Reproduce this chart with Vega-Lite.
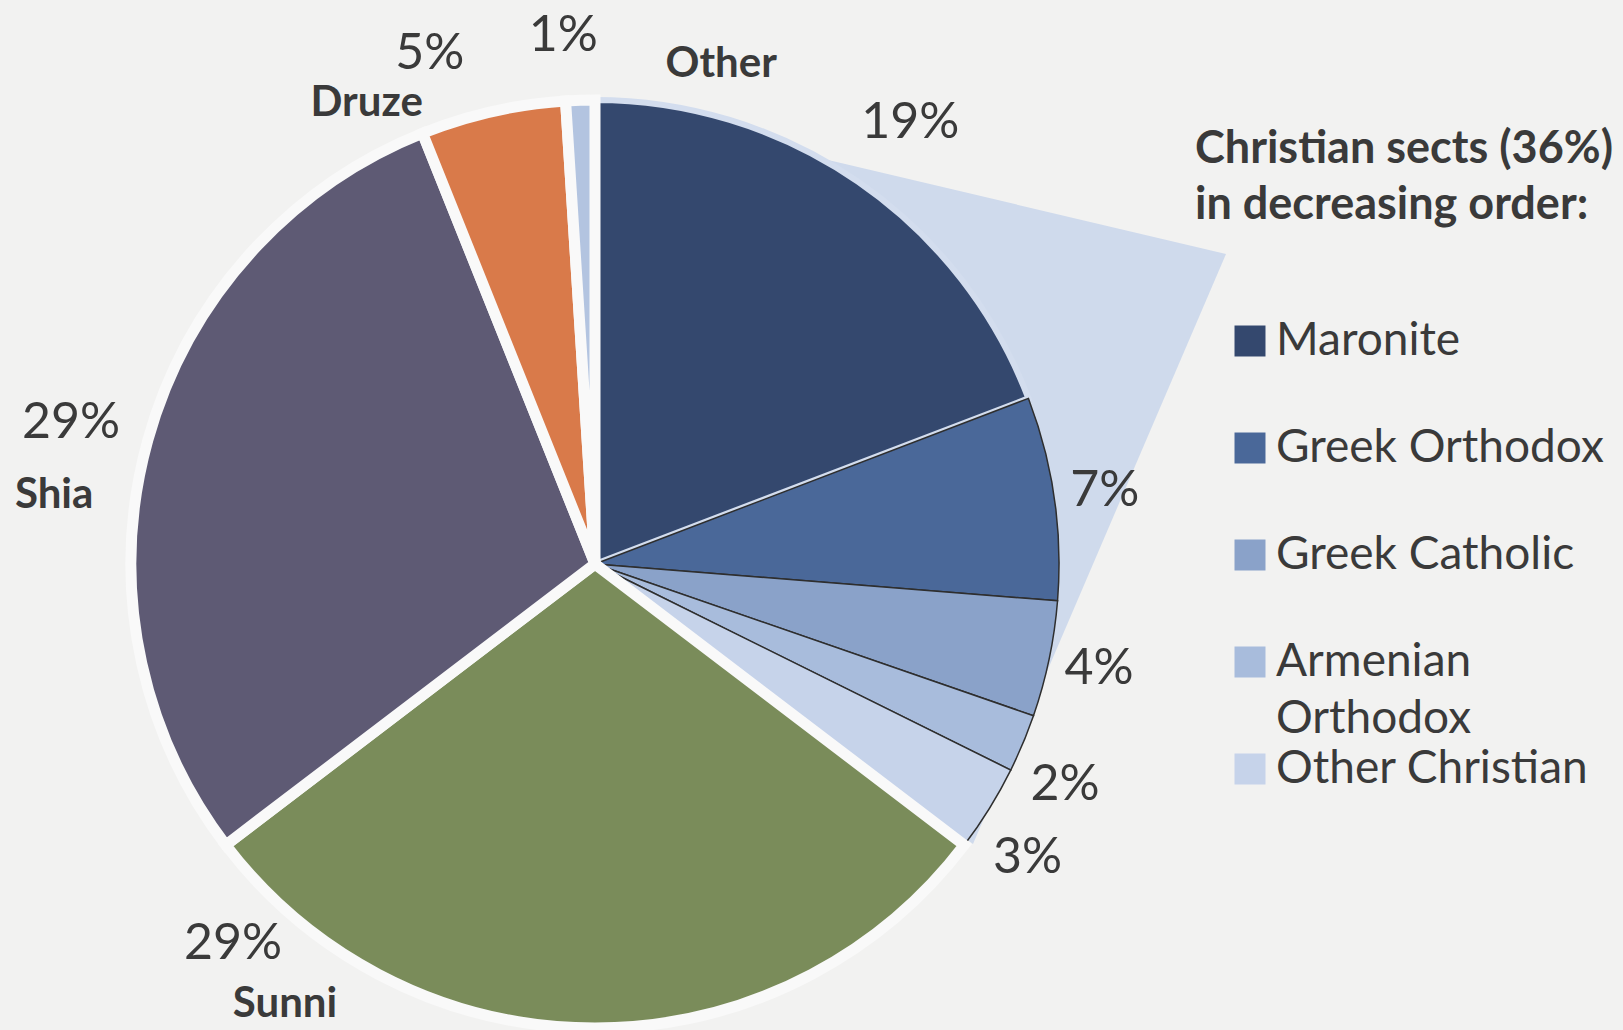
{
  "$schema": "https://vega.github.io/schema/vega-lite/v6.json",
  "width": 1190,
  "height": 932,
  "autosize": {"type": "none"},
  "padding": {"left": 0, "top": 98, "right": 433, "bottom": 0},
  "background": "#f2f2f1",
  "config": {
    "view": {"stroke": null},
    "font": "Lato",
    "style": {"guide-label": {"lineHeight": 57}}
  },
  "data": {
    "values": [
      {"sect": "Maronite", "group": "Christian", "value": 19, "label": "19%", "rank": 1},
      {"sect": "Greek Orthodox", "group": "Christian", "value": 7, "label": "7%", "rank": 2},
      {"sect": "Greek Catholic", "group": "Christian", "value": 4, "label": "4%", "rank": 3},
      {"sect": "Armenian Orthodox", "group": "Christian", "value": 2, "label": "2%", "rank": 4},
      {"sect": "Other Christian", "group": "Christian", "value": 3, "label": "3%", "rank": 5},
      {"sect": "Sunni", "group": "Sunni", "value": 29, "label": "29%", "rank": 6},
      {"sect": "Shia", "group": "Shia", "value": 29, "label": "29%", "rank": 7},
      {"sect": "Druze", "group": "Druze", "value": 5, "label": "5%", "rank": 8},
      {"sect": "Other", "group": "Other", "value": 1, "label": "1%", "rank": 9}
    ]
  },
  "layer": [
    {
      "data": {"values": [{"part": "callout"}]},
      "mark": {
        "type": "point",
        "shape": "M 0 0 L 2.12 -4.09 L 6.31 -3.10 L 3.78 2.80 Z",
        "size": 40000,
        "filled": true,
        "color": "#cfdaec",
        "opacity": 1,
        "strokeWidth": 0
      },
      "encoding": {}
    },
    {
      "mark": {"type": "arc", "outerRadius": 464},
      "encoding": {
        "theta": {"field": "value", "type": "quantitative", "stack": true},
        "order": {"field": "rank", "type": "quantitative"},
        "color": {
          "field": "sect",
          "type": "nominal",
          "scale": {
            "domain": ["Maronite", "Greek Orthodox", "Greek Catholic", "Armenian Orthodox", "Other Christian", "Sunni", "Shia", "Druze", "Other"],
            "range": ["#34486e", "#4a6899", "#8aa2c9", "#a8bcdc", "#c6d3ea", "#7a8c5a", "#5e5a74", "#d97a4a", "#b3c4e0"]
          },
          "legend": {
            "title": ["Christian sects (36%)", "in decreasing order:"],
            "values": ["Maronite", "Greek Orthodox", "Greek Catholic", "Armenian Orthodox", "Other Christian"],
            "orient": "none",
            "legendX": 1195,
            "legendY": 29,
            "padding": 0,
            "symbolType": "square",
            "symbolSize": 960,
            "symbolOffset": 32,
            "symbolStrokeWidth": 0,
            "symbolOpacity": 1,
            "labelFont": "Lato",
            "labelFontSize": 46,
            "labelColor": "#3a3a3a",
            "labelLimit": 600,
            "labelOffset": 3,
            "labelExpr": "datum.label == 'Armenian Orthodox' ? ['Armenian', 'Orthodox'] : [datum.label, ' ']",
            "rowPadding": 4,
            "titleFont": "Lato",
            "titleFontSize": 45,
            "titleFontWeight": "bold",
            "titleColor": "#3a3a3a",
            "titleLimit": 700,
            "titleLineHeight": 56,
            "titlePadding": 90
          }
        },
        "stroke": {
          "condition": [
            {"test": "datum.sect == 'Maronite'", "value": "#d3ddee"},
            {"test": "datum.group != 'Christian'", "value": "#f9f9f9"}
          ],
          "value": "#2e2e2e"
        },
        "strokeWidth": {
          "condition": [
            {"test": "datum.sect == 'Maronite'", "value": 6},
            {"test": "datum.group != 'Christian'", "value": 11}
          ],
          "value": 1.5
        }
      }
    },
    {
      "mark": {"type": "text", "radius": 535, "fontSize": 50, "color": "#3a3a3a", "font": "Lato", "dx": 12},
      "encoding": {
        "theta": {"field": "value", "type": "quantitative", "stack": true},
        "order": {"field": "rank", "type": "quantitative"},
        "detail": {"field": "sect"},
        "text": {"condition": {"test": "datum.sect == 'Maronite'", "field": "label"}, "value": ""}
      }
    },
    {
      "mark": {"type": "text", "radius": 515, "fontSize": 50, "color": "#3a3a3a", "font": "Lato"},
      "encoding": {
        "theta": {"field": "value", "type": "quantitative", "stack": true},
        "order": {"field": "rank", "type": "quantitative"},
        "detail": {"field": "sect"},
        "text": {"condition": {"test": "datum.sect == 'Greek Orthodox' || datum.sect == 'Greek Catholic'", "field": "label"}, "value": ""}
      }
    },
    {
      "mark": {"type": "text", "radius": 515, "fontSize": 50, "color": "#3a3a3a", "font": "Lato", "dx": -5, "dy": 22},
      "encoding": {
        "theta": {"field": "value", "type": "quantitative", "stack": true},
        "order": {"field": "rank", "type": "quantitative"},
        "detail": {"field": "sect"},
        "text": {"condition": {"test": "datum.sect == 'Armenian Orthodox' || datum.sect == 'Other Christian'", "field": "label"}, "value": ""}
      }
    },
    {
      "mark": {"type": "text", "radius": 528, "fontSize": 50, "color": "#3a3a3a", "font": "Lato", "dx": -15},
      "encoding": {
        "theta": {"field": "value", "type": "quantitative", "stack": true},
        "order": {"field": "rank", "type": "quantitative"},
        "detail": {"field": "sect"},
        "text": {"condition": {"test": "datum.sect == 'Shia' || datum.sect == 'Other'", "field": "label"}, "value": ""}
      }
    },
    {
      "mark": {"type": "text", "radius": 528, "fontSize": 50, "color": "#3a3a3a", "font": "Lato", "dx": -49, "dy": 5},
      "encoding": {
        "theta": {"field": "value", "type": "quantitative", "stack": true},
        "order": {"field": "rank", "type": "quantitative"},
        "detail": {"field": "sect"},
        "text": {"condition": {"test": "datum.sect == 'Druze'", "field": "label"}, "value": ""}
      }
    },
    {
      "mark": {"type": "text", "radius": 528, "fontSize": 50, "color": "#3a3a3a", "font": "Lato", "dx": -362, "dy": -148},
      "encoding": {
        "theta": {"field": "value", "type": "quantitative", "stack": true},
        "order": {"field": "rank", "type": "quantitative"},
        "detail": {"field": "sect"},
        "text": {"condition": {"test": "datum.sect == 'Sunni'", "field": "label"}, "value": ""}
      }
    },
    {
      "mark": {"type": "text", "radius": 528, "fontSize": 42, "fontWeight": "bold", "color": "#3a3a3a", "font": "Lato", "dx": -32, "dy": 72},
      "encoding": {
        "theta": {"field": "value", "type": "quantitative", "stack": true},
        "order": {"field": "rank", "type": "quantitative"},
        "detail": {"field": "sect"},
        "text": {"condition": {"test": "datum.sect == 'Shia'", "field": "sect"}, "value": ""}
      }
    },
    {
      "mark": {"type": "text", "radius": 528, "fontSize": 42, "fontWeight": "bold", "color": "#3a3a3a", "font": "Lato", "dx": -310, "dy": -88},
      "encoding": {
        "theta": {"field": "value", "type": "quantitative", "stack": true},
        "order": {"field": "rank", "type": "quantitative"},
        "detail": {"field": "sect"},
        "text": {"condition": {"test": "datum.sect == 'Sunni'", "field": "sect"}, "value": ""}
      }
    },
    {
      "mark": {"type": "text", "radius": 528, "fontSize": 42, "fontWeight": "bold", "color": "#3a3a3a", "font": "Lato", "dx": -112, "dy": 54},
      "encoding": {
        "theta": {"field": "value", "type": "quantitative", "stack": true},
        "order": {"field": "rank", "type": "quantitative"},
        "detail": {"field": "sect"},
        "text": {"condition": {"test": "datum.sect == 'Druze'", "field": "sect"}, "value": ""}
      }
    },
    {
      "mark": {"type": "text", "radius": 528, "fontSize": 42, "fontWeight": "bold", "color": "#3a3a3a", "font": "Lato", "dx": 143, "dy": 28},
      "encoding": {
        "theta": {"field": "value", "type": "quantitative", "stack": true},
        "order": {"field": "rank", "type": "quantitative"},
        "detail": {"field": "sect"},
        "text": {"condition": {"test": "datum.sect == 'Other'", "field": "sect"}, "value": ""}
      }
    }
  ]
}
